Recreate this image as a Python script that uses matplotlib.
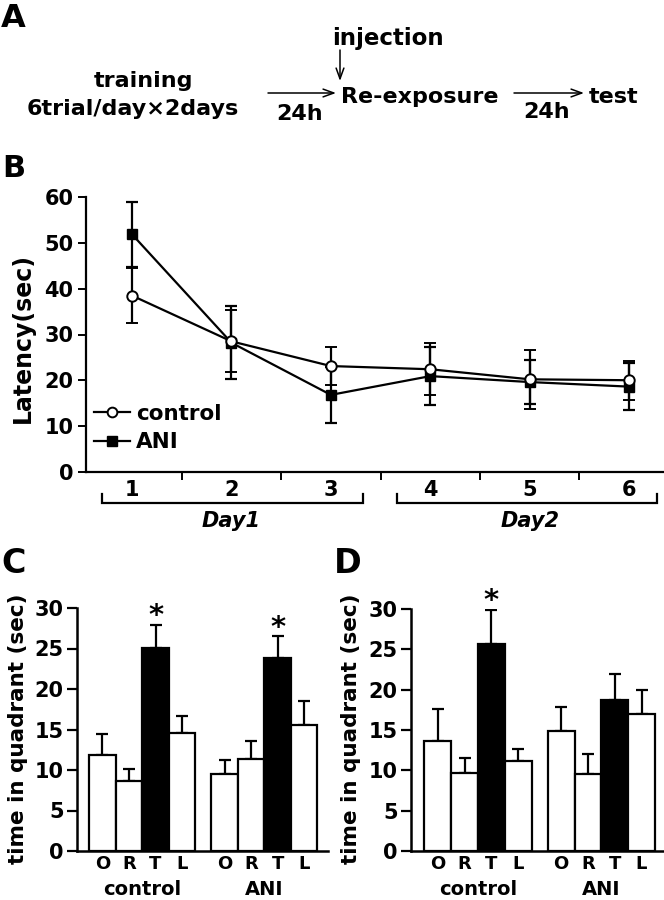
import matplotlib
matplotlib.use("Agg")
import matplotlib.pyplot as plt
import matplotlib.transforms as mtransforms
from matplotlib.patches import FancyArrowPatch
from matplotlib.lines import Line2D
import numpy as np

# ---------------- data ----------------
trials = [1, 2, 3, 4, 5, 6]
trial_labels = ["1", "2", "3", "4", "5", "6"]
control_lat = [38.5, 28.5, 23.1, 22.4, 20.2, 20.0]
control_sem = [6.0, 6.8, 4.1, 5.7, 6.4, 4.3]
ani_lat = [51.9, 28.2, 16.8, 20.9, 19.6, 18.6]
ani_sem = [7.1, 8.0, 6.2, 6.3, 4.8, 5.1]

quadrants = ["O", "R", "T", "L"]
groups = ["control", "ANI"]
c_control = [11.8, 8.7, 25.05, 14.6]
c_control_err = [2.7, 1.4, 2.85, 2.1]
c_ani = [9.5, 11.4, 23.8, 15.5]
c_ani_err = [1.75, 2.2, 2.7, 3.0]
d_control = [13.65, 9.65, 25.6, 11.1]
d_control_err = [3.95, 1.9, 4.3, 1.5]
d_ani = [14.9, 9.6, 18.7, 17.0]
d_ani_err = [3.0, 2.4, 3.3, 3.0]
sig_c = [(0, 2), (1, 2)]   # (group, quadrant) with asterisk
sig_d = [(0, 2)]

W, H = 664, 900
fig = plt.figure(figsize=(W / 100, H / 100), dpi=100)
plt.rcParams["font.family"] = ["DejaVu Sans"]
plt.rcParams["font.weight"] = "bold"

def rect(l, t, r, b):
    return [l / W, 1 - b / H, (r - l) / W, (b - t) / H]

def fx(x):
    return x / W

def fy(y):
    return 1 - y / H

BOLD = dict(fontweight="bold")

# ---------------- Panel A ----------------
fs_a = 16
fig.text(fx(1), fy(3), "A", fontsize=23, ha="left", va="top", **BOLD)
fig.text(fx(143), fy(87), "training", fontsize=fs_a, ha="center", va="baseline", **BOLD)
fig.text(fx(27), fy(115), "6trial/day\u00d72days", fontsize=fs_a, ha="left", va="baseline", **BOLD)
fig.text(fx(300), fy(120), "24h", fontsize=fs_a, ha="center", va="baseline", **BOLD)
fig.text(fx(332), fy(45), "injection", fontsize=16.5, ha="left", va="baseline", **BOLD)
fig.text(fx(341), fy(103), "Re-exposure", fontsize=fs_a, ha="left", va="baseline", **BOLD)
fig.text(fx(547), fy(118), "24h", fontsize=fs_a, ha="center", va="baseline", **BOLD)
fig.text(fx(589), fy(103), "test", fontsize=fs_a, ha="left", va="baseline", **BOLD)
arrow_kw = dict(arrowstyle="->,head_length=0.55,head_width=0.2", lw=1.1, color="black",
                mutation_scale=14, shrinkA=0, shrinkB=0)
for (x0, y0, x1, y1) in [(268, 93, 336, 93), (514, 93, 584, 93), (340, 50, 340, 81)]:
    fig.patches.append(FancyArrowPatch((fx(x0), fy(y0)), (fx(x1), fy(y1)),
                                       transform=fig.transFigure, **arrow_kw))

# ---------------- Panel B ----------------
fig.text(fx(2), fy(154), "B", fontsize=22, ha="left", va="top", **BOLD)
axb = fig.add_axes(rect(86, 197.3, 664, 471.7))
lw = 1.6
axb.errorbar(trials, control_lat, yerr=control_sem, color="black", lw=lw, elinewidth=lw,
             capsize=4.5, capthick=lw, marker="o", ms=7.5, mfc="white", mec="black", mew=1.4,
             clip_on=False, zorder=4)
axb.errorbar(trials, ani_lat, yerr=ani_sem, color="black", lw=lw, elinewidth=lw,
             capsize=4.5, capthick=lw, marker="s", ms=7, mfc="black", mec="black",
             clip_on=False, zorder=3)
axb.set_ylim(0, 60)
axb.set_xlim(0.537, 6.35)
axb.set_yticks([0, 10, 20, 30, 40, 50, 60])
axb.set_xticks(trials)
axb.set_xticklabels(trial_labels)
axb.set_xticks([1.5, 2.5, 3.5, 4.5, 5.5], minor=True)
axb.tick_params(axis="x", which="major", length=0, pad=6, labelsize=15)
axb.tick_params(axis="x", which="minor", length=6, width=1.4, direction="out")
axb.tick_params(axis="y", length=6, width=1.4, direction="out", pad=3, labelsize=15)
for lab in axb.get_xticklabels() + axb.get_yticklabels():
    lab.set_fontweight("bold")
for s in ["top", "right"]:
    axb.spines[s].set_visible(False)
for s in ["left", "bottom"]:
    axb.spines[s].set_linewidth(1.6)
handles = [Line2D([], [], color="black", lw=1.6, marker="o", ms=7, mfc="white", mec="black", mew=1.4),
           Line2D([], [], color="black", lw=1.6, marker="s", ms=6.5, mfc="black", mec="black")]
axb.legend(handles, ["control", "ANI"], loc="center left", bbox_to_anchor=(fx(94), fy(428)),
           bbox_transform=fig.transFigure, frameon=False, handlelength=1.65, handletextpad=0.3,
           labelspacing=0.38, borderaxespad=0, borderpad=0,
           prop=dict(family="DejaVu Sans", weight="bold", size=15.5))
fig.text(fx(23), fy(338), "Latency(sec)", rotation=90, fontsize=17, ha="center", va="center", **BOLD)
# Day brackets
tb = mtransforms.blended_transform_factory(axb.transData, fig.transFigure)
for (x0, x1, xc, lab) in [(0.70, 3.32, 2, "Day1"), (3.66, 6.28, 5, "Day2")]:
    axb.plot([x0, x0, x1, x1], [fy(494), fy(503), fy(503), fy(494)], transform=tb,
             color="black", lw=1.6, clip_on=False, solid_joinstyle="miter")
    axb.text(xc, fy(521), lab, transform=tb, fontsize=15, style="italic",
             ha="center", va="center", clip_on=False, **BOLD)

# ---------------- Panels C and D ----------------
def bar_panel(rect_px, xlim, ctrl, ctrl_err, ani, ani_err, sig, letter, letter_x, ylab_x):
    ax = fig.add_axes(rect(*rect_px))
    pos_c = np.arange(4)
    pos_a = np.arange(4) + 4.6
    colors = ["white", "white", "black", "white"]
    for pos, vals, errs in [(pos_c, ctrl, ctrl_err), (pos_a, ani, ani_err)]:
        ax.bar(pos, vals, width=1.0, color=colors, edgecolor="black", linewidth=1.6, zorder=2)
        ax.errorbar(pos, vals, yerr=[np.zeros(4), errs], fmt="none", ecolor="black",
                    elinewidth=1.6, capsize=4.5, capthick=1.6, zorder=1)
    for g, q in sig:
        pos = (pos_c if g == 0 else pos_a)[q]
        vals = ctrl if g == 0 else ani
        errs = ctrl_err if g == 0 else ani_err
        ax.text(pos, vals[q] + errs[q] + 0.1, "*", fontsize=21,
                ha="center", va="baseline", clip_on=False, **BOLD)
    ax.set_ylim(0, 30)
    ax.set_xlim(*xlim)
    ax.set_yticks([0, 5, 10, 15, 20, 25, 30])
    ax.set_xticks(list(pos_c) + list(pos_a))
    ax.set_xticklabels(quadrants * 2)
    ax.tick_params(axis="x", length=0, pad=3, labelsize=13)
    ax.tick_params(axis="y", length=7, width=1.6, direction="out", pad=2.5, labelsize=15)
    for lab in ax.get_xticklabels() + ax.get_yticklabels():
        lab.set_fontweight("bold")
    for s in ["top", "right"]:
        ax.spines[s].set_visible(False)
    for s in ["left", "bottom"]:
        ax.spines[s].set_linewidth(1.8)
    tb2 = mtransforms.blended_transform_factory(ax.transData, fig.transFigure)
    ax.text(pos_c.mean(), fy(895), groups[0], transform=tb2, fontsize=14,
            ha="center", va="baseline", clip_on=False, **BOLD)
    ax.text(pos_a.mean(), fy(895), groups[1], transform=tb2, fontsize=14,
            ha="center", va="baseline", clip_on=False, **BOLD)
    fig.text(fx(letter_x), fy(547), letter, fontsize=24, ha="left", va="top", **BOLD)
    fig.text(fx(ylab_x), fy(729), "time in quadrant (sec)", rotation=90, fontsize=15.5,
             ha="center", va="center", **BOLD)
    return ax

bar_panel((77, 608, 328, 851), (-0.96, 8.5), c_control, c_control_err, c_ani, c_ani_err,
          sig_c, "C", 1, 18)
bar_panel((411, 609, 663, 851), (-1.0, 8.4), d_control, d_control_err, d_ani, d_ani_err,
          sig_d, "D", 334, 351)

fig.savefig("out.png", dpi=100, facecolor="white")
